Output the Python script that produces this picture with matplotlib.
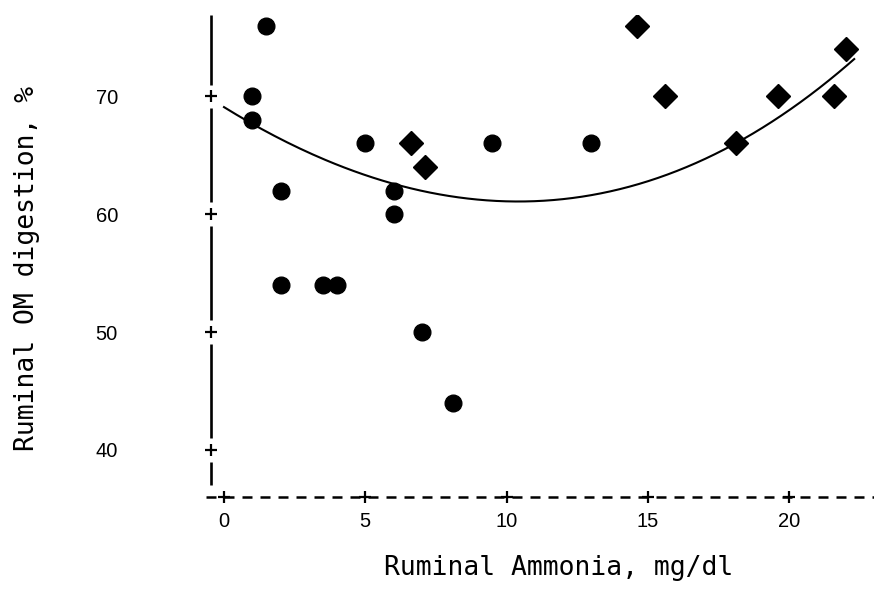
"""
Відтворення діаграми: перетравність органічної речовини в рубці
залежно від концентрації аміаку в рубці.
"""

from __future__ import annotations

from typing import List

import matplotlib

matplotlib.use("Agg")
import matplotlib.pyplot as plt
import numpy as np

# Кола (перша група спостережень).
circle_x = [1.5, 1.0, 1.0, 2.0, 2.0, 3.5, 4.0, 5.0, 6.0, 6.0, 7.0, 8.1, 9.5, 13.0]
circle_y = [76, 70, 68, 62, 54, 54, 54, 66, 62, 60, 50, 44, 66, 66]

# Ромби (друга група спостережень).
diamond_x = [6.6, 7.1, 14.6, 15.6, 18.1, 19.6, 21.6, 22.0]
diamond_y = [66, 64, 76, 70, 66, 70, 70, 74]

# Точки лінії регресії.
curve_x = [0.0, 3.2, 6.0, 8.3, 10.5, 12.6, 14.0, 17.7, 19.65, 22.3]
curve_y = [68.8, 65.6, 62.6, 61.2, 60.8, 61.3, 62.3, 65.45, 68.7, 72.9]

x_ticks = [0, 5, 10, 15, 20]
x_tick_labels = ["0", "5", "10", "15", "20"]
y_ticks = [40, 50, 60, 70]
y_tick_labels = ["40", "50", "60", "70"]

x_label = "Ruminal Ammonia, mg/dl"
y_label = "Ruminal OM digestion, %"


def draw_left_axis(ax: plt.Axes, ticks: List[int], y_min: float, y_max: float) -> None:
    """Малює ліву вісь як суцільні відрізки з розривами біля поділок."""
    trans = ax.get_yaxis_transform()
    bounds = [y_max] + sorted(ticks, reverse=True) + [y_min + 1.0]
    for upper, lower in zip(bounds[:-1], bounds[1:]):
        top = upper - 1.0 if upper in ticks else upper
        bottom = lower + 1.0 if lower in ticks else lower
        ax.plot([0, 0], [top, bottom], color="black", lw=1.9,
                transform=trans, clip_on=False, solid_capstyle="butt")
    ax.plot([0] * len(ticks), ticks, linestyle="none", marker="+", ms=8,
            mew=1.6, color="black", transform=trans, clip_on=False)


def draw_bottom_axis(ax: plt.Axes, ticks: List[int], x_start: float, x_end: float) -> None:
    """Малює нижню вісь штриховою лінією з поділками '+'."""
    trans = ax.get_xaxis_transform()
    ax.plot([x_start, x_end], [0, 0], color="black", lw=1.8,
            linestyle=(0, (4, 3.2)), transform=trans, clip_on=False)
    ax.plot(ticks, [0] * len(ticks), linestyle="none", marker="+", ms=8,
            mew=1.6, color="black", transform=trans, clip_on=False)


def main() -> None:
    """Будує рисунок і зберігає його."""
    fig = plt.figure(figsize=(8.74, 5.94), dpi=100)
    ax = fig.add_axes([211 / 874, 97 / 594, 663 / 874, 482 / 594])

    x_min, x_max = -0.46, 23.0
    y_min, y_max = 36.0, 76.9
    ax.set_xlim(x_min, x_max)
    ax.set_ylim(y_min, y_max)

    # Лінія регресії (кубічна апроксимація зчитаних точок).
    coeffs = np.polyfit(curve_x, curve_y, 3)
    xs = np.linspace(curve_x[0], curve_x[-1], 200)
    ax.plot(xs, np.polyval(coeffs, xs), color="black", lw=1.5)

    ax.plot(circle_x, circle_y, linestyle="none", marker="o", ms=12,
            color="black")
    ax.plot(diamond_x, diamond_y, linestyle="none", marker="D", ms=12,
            color="black")

    for spine in ax.spines.values():
        spine.set_visible(False)

    draw_left_axis(ax, y_ticks, y_min, y_max)
    draw_bottom_axis(ax, x_ticks, -0.65, x_max)

    num_font = {"family": "Liberation Sans", "size": 14.5}
    ax.set_xticks(x_ticks)
    ax.set_xticklabels(x_tick_labels, fontdict=num_font)
    ax.set_yticks(y_ticks)
    ax.set_yticklabels(y_tick_labels, fontdict=num_font)
    ax.tick_params(axis="x", length=0, pad=11)
    ax.tick_params(axis="y", length=0, pad=67)

    label_font = {"family": "DejaVu Sans Mono", "size": 19}
    ax.set_xlabel(x_label, fontdict=label_font)
    ax.set_ylabel(y_label, fontdict=label_font)
    ax.xaxis.set_label_coords(0.525, -0.12)
    ax.yaxis.label.set_va("center")
    ax.yaxis.set_label_coords(-0.278, 0.475)

    fig.savefig("out.png", dpi=100)


if __name__ == "__main__":
    main()
